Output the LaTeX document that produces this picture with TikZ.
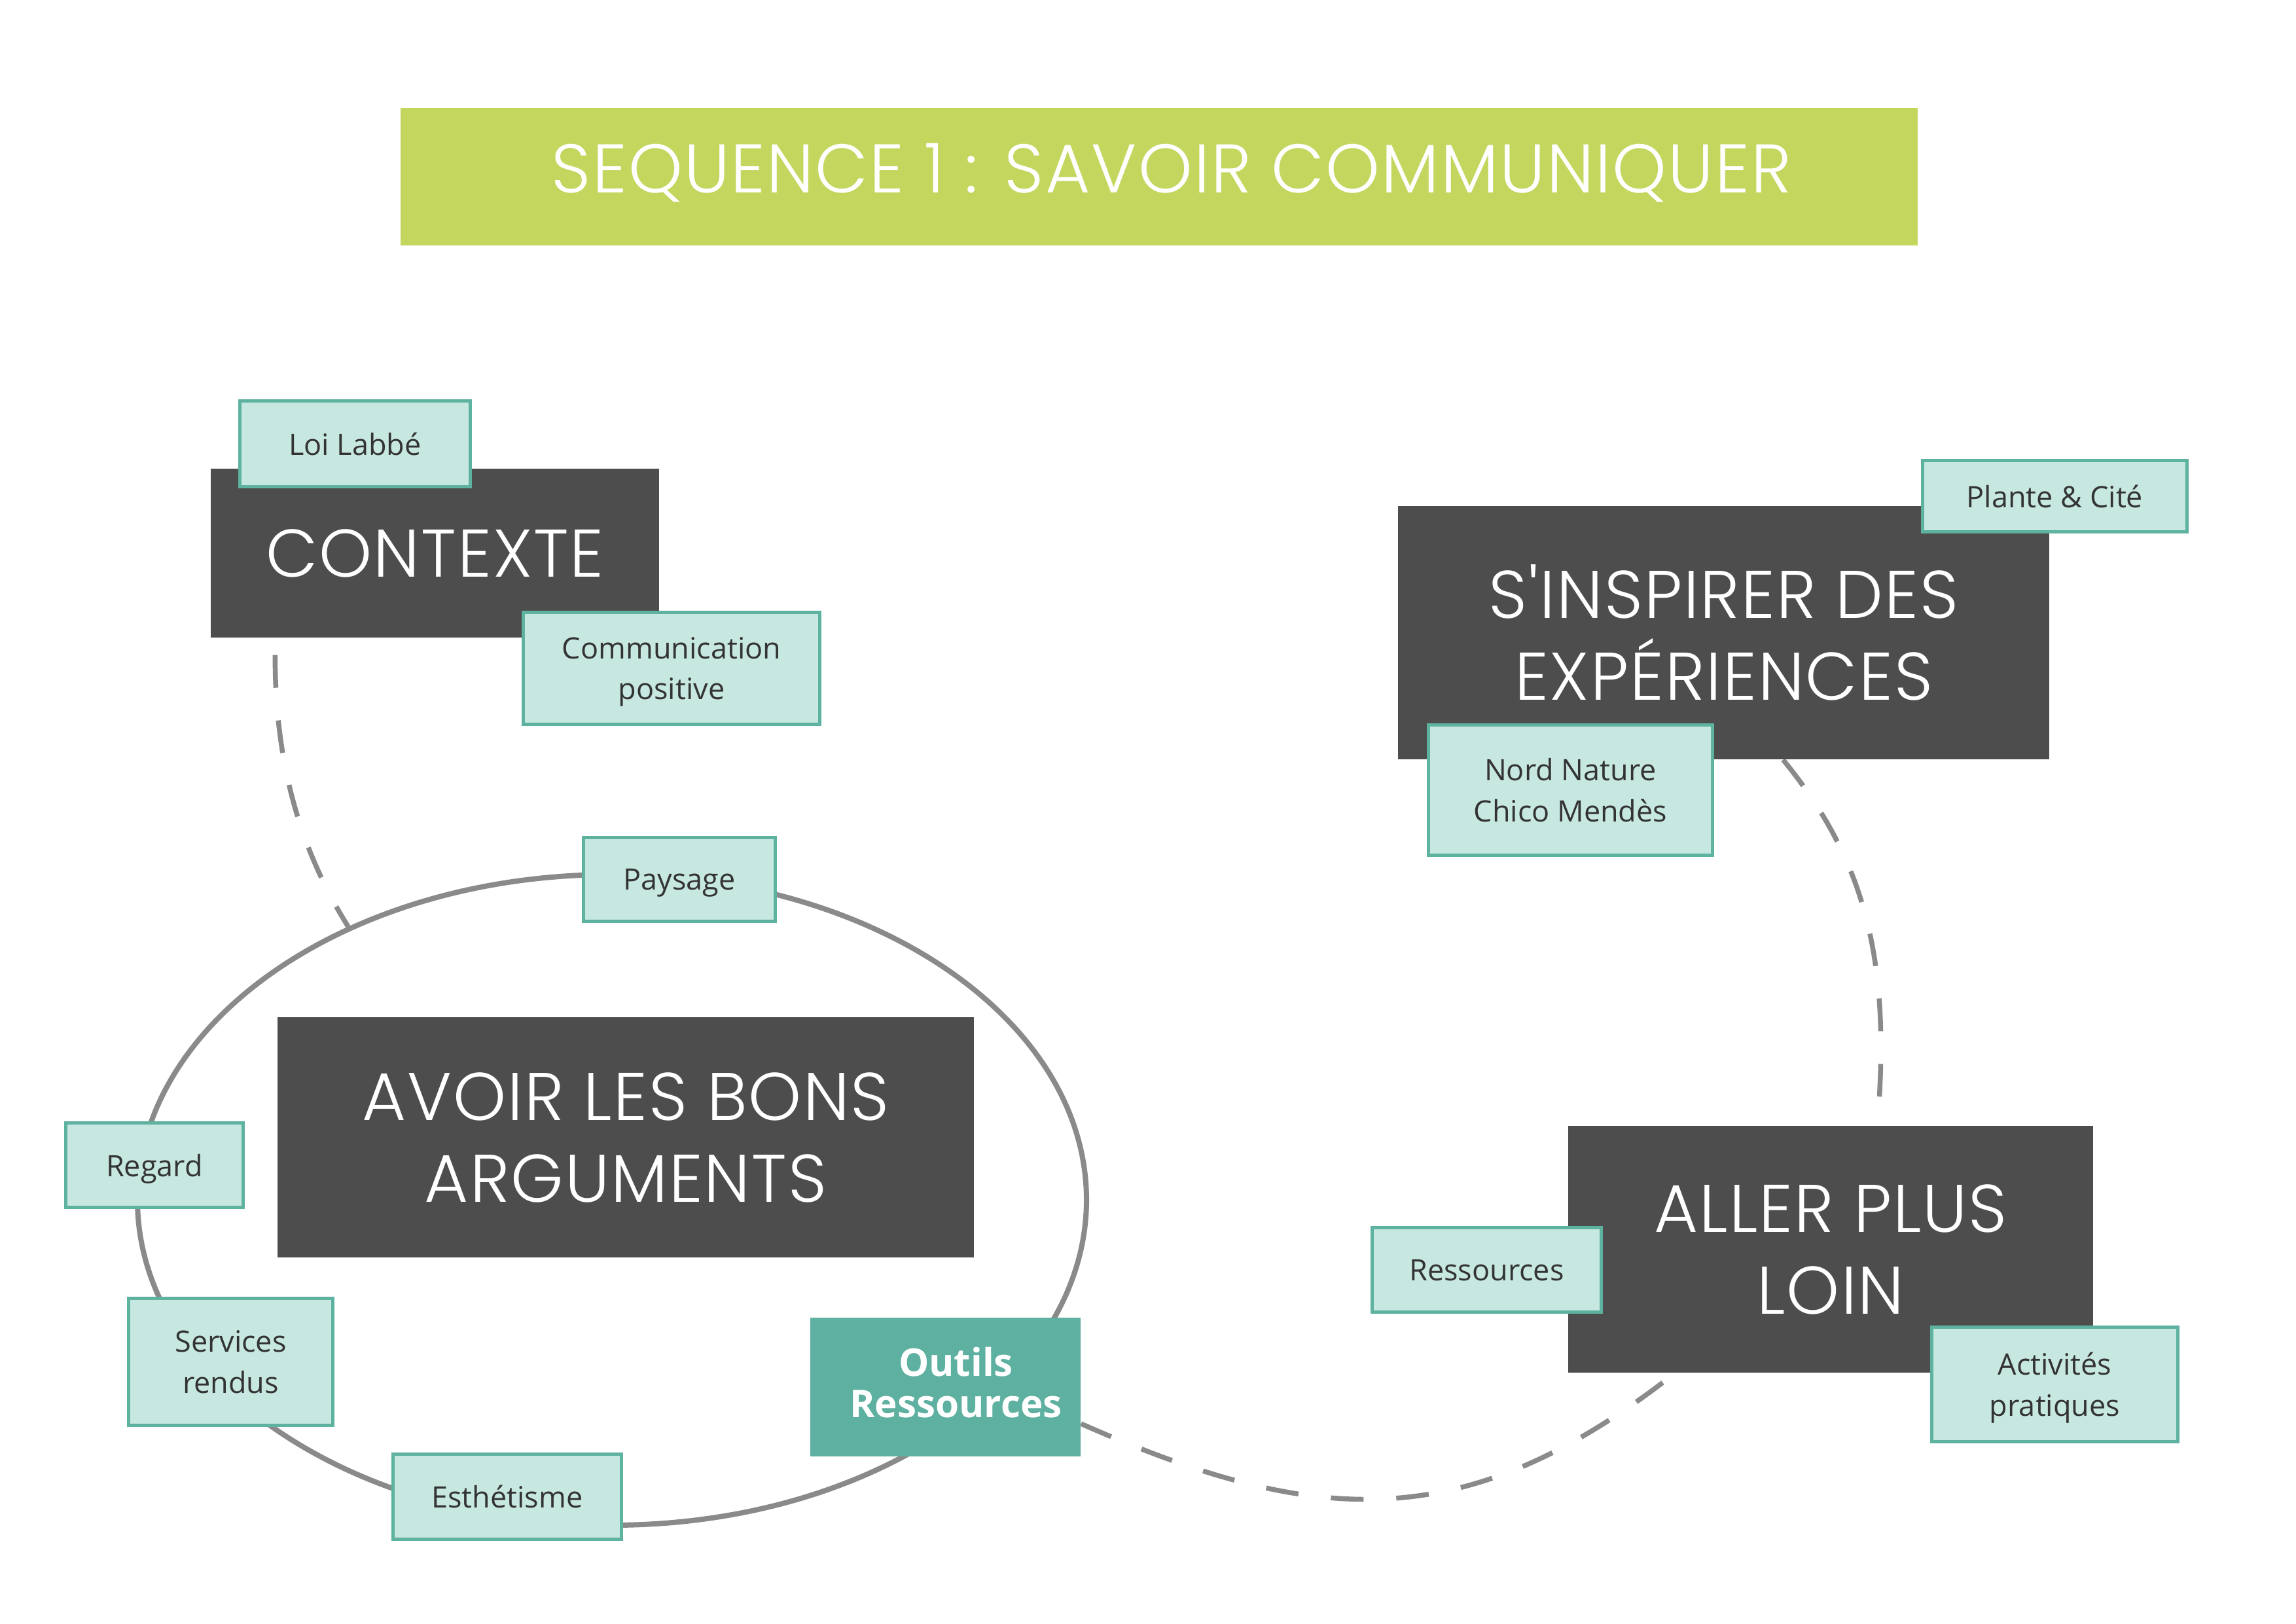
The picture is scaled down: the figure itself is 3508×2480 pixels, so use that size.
\documentclass[tikz,border=0pt]{standalone}
\usepackage{fontspec}
\setmainfont{Open Sans}
\newfontfamily\bigfont{Poppins Light}[LetterSpace=2]
\usetikzlibrary{shapes.geometric,calc}
\definecolor{titlegreen}{RGB}{197,214,95}
\definecolor{darkbox}{RGB}{77,77,77}
\definecolor{mint}{RGB}{199,231,225}
\definecolor{tealline}{RGB}{94,178,160}
\definecolor{tealfill}{RGB}{94,176,160}
\definecolor{linegray}{RGB}{138,138,138}
\definecolor{txtgray}{RGB}{51,51,51}
\begin{document}
\begin{tikzpicture}[x=0.1mm,y=-0.1mm,
  bigbox/.style={fill=darkbox, draw=none, text=white, inner sep=0pt, align=center,
    font=\bigfont\fontsize{29.3pt}{35.6pt}\selectfont},
  tagbox/.style={fill=mint, draw=tealline, line width=0.5mm, text=txtgray, inner sep=0pt,
    align=center, text depth=0pt, font=\fontsize{12.8pt}{17.9pt}\selectfont},
  toolbox/.style={fill=tealfill, draw=none, text=white, inner sep=0pt, align=center,
    text depth=1.4mm, font=\bfseries\fontsize{16.6pt}{17.9pt}\selectfont},
  dashlink/.style={draw=linegray, line width=0.75mm, dash pattern=on 5mm off 5mm},
  ringstyle/.style={ellipse, draw=linegray, line width=0.8mm, inner sep=0pt}
]
\useasboundingbox[fill=white] (0,0) rectangle (3508,2480);

% ring
\node[ringstyle, minimum width=145mm, minimum height=99.4mm] (ring) at (935,1833) {};

% dark boxes
\node[bigbox, minimum width=68.5mm, minimum height=25.8mm] (ctx) at (664.5,845) {CONTEXTE};
\node[bigbox, minimum width=99.5mm, minimum height=38.7mm] (insp) at (2633.5,966.5) {S'INSPIRER DES\\EXPÉRIENCES};
\node[bigbox, minimum width=106.4mm, minimum height=36.7mm] (avoir) at (956,1737.5) {AVOIR LES BONS\\ARGUMENTS};
\node[bigbox, minimum width=80.2mm, minimum height=37.7mm] (aller) at (2797,1908.5) {ALLER PLUS\\LOIN};

% outils box
\node[toolbox, minimum width=41.3mm, minimum height=21.2mm] (outils) at (1444.5,2119) {\hspace*{3.2mm}Outils\\\hspace*{3.2mm}Ressources};

% connectors
\draw[dashlink] ($(ctx.south west)+(99,26)$) .. controls +(0,150) and +(-81,-130) .. (ring.134.7);
\draw[dashlink] ($(insp.south west)+(589,0)$) .. controls +(127,155) and +(21,-249) .. ($(aller.north west)+(473,0)$);
\draw[dashlink] ($(outils.east)+(0,56)$) .. controls +(366,162) and +(-316,246) .. ($(aller.south west)+(164,0)$);

% redraw boxes over connectors
\node[bigbox, minimum width=68.5mm, minimum height=25.8mm] at (ctx) {CONTEXTE};
\node[bigbox, minimum width=99.5mm, minimum height=38.7mm] at (insp) {S'INSPIRER DES\\EXPÉRIENCES};
\node[bigbox, minimum width=80.2mm, minimum height=37.7mm] at (aller) {ALLER PLUS\\LOIN};
\node[toolbox, minimum width=41.3mm, minimum height=21.2mm] at (outils) {\hspace*{3.2mm}Outils\\\hspace*{3.2mm}Ressources};

% title
\node[fill=titlegreen, minimum width=231.8mm, minimum height=21mm, inner sep=0pt] (title) at (1771,270) {};
\node[text=white, inner sep=0pt, text depth=0pt, font=\bigfont\fontsize{29.9pt}{35pt}\selectfont] (titletext) at ($(title.center)+(19,-13)$) {SEQUENCE 1 : SAVOIR COMMUNIQUER};

% tags
\node[tagbox, minimum width=35.2mm, minimum height=13.1mm] (loi) at (542.5,678) {Loi Labbé};
\node[tagbox, minimum width=45.3mm, minimum height=17.1mm] (comm) at (1026,1021) {Communication\\positive};
\node[tagbox, minimum width=40.4mm, minimum height=10.9mm] (plante) at (3139.5,758) {Plante \& Cité};
\node[tagbox, minimum width=43.4mm, minimum height=19.9mm] (nord) at (2399.5,1207) {Nord Nature\\Chico Mendès};
\node[tagbox, minimum width=29.3mm, minimum height=12.8mm] (paysage) at (1038,1343.5) {Paysage};
\node[tagbox, minimum width=27.1mm, minimum height=12.9mm] (regard) at (236,1780) {Regard};
\node[tagbox, minimum width=31.2mm, minimum height=19.4mm] (services) at (352.5,2080.5) {Services\\rendus};
\node[tagbox, minimum width=34.9mm, minimum height=13mm] (esth) at (775,2286.5) {Esthétisme};
\node[tagbox, minimum width=35mm, minimum height=12.9mm] (ress) at (2271.5,1940) {Ressources};
\node[tagbox, minimum width=37.6mm, minimum height=17.5mm] (activ) at (3139.5,2115) {Activités\\pratiques};
\end{tikzpicture}
\end{document}
